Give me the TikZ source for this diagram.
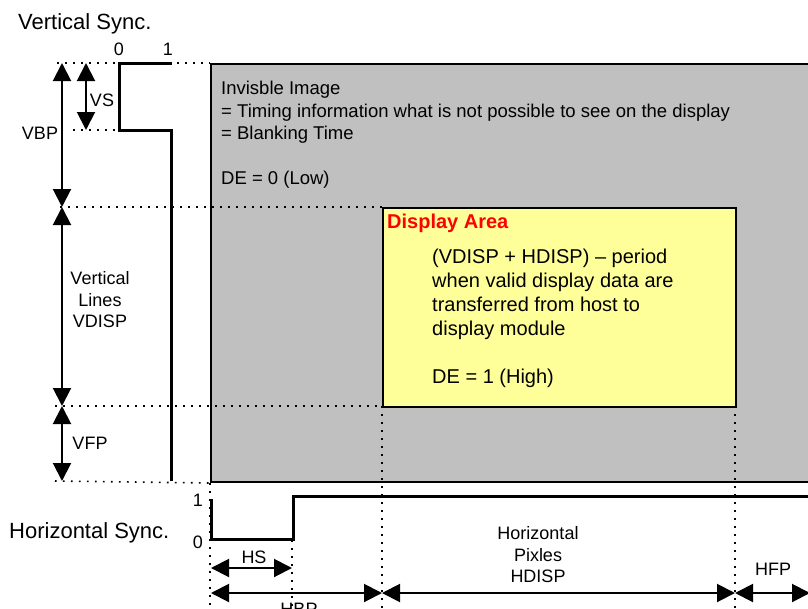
\documentclass[tikz,border=0pt]{standalone}
\usepackage{fontspec}
\setmainfont{Liberation Sans}
\usetikzlibrary{arrows.meta,positioning}
\definecolor{blankgray}{RGB}{192,192,192}
\definecolor{dispyellow}{RGB}{255,255,153}

\begin{document}
\begin{tikzpicture}[
  x=1pt, y=-1pt,
  sig/.style={line width=3pt, line join=miter},
  dim/.style={{Triangle[width=18pt,length=18pt]}-{Triangle[width=18pt,length=18pt]}, line width=2pt},
  guide/.style={line width=1.6pt, dash pattern=on 1.6pt off 6.4pt},
  area/.style={draw, line width=2pt, anchor=north west, inner sep=0pt},
  lbl/.style={font=\fontsize{18}{21.5}\selectfont, inner sep=0pt, align=center},
  title/.style={font=\fontsize{22}{26}\selectfont, inner sep=0pt, anchor=base west}
]
\useasboundingbox (0,0) rectangle (808,608);

% Blanking area and display area
\node[area, fill=blankgray, minimum width=630pt, minimum height=418pt] (blank) at (210,63) {};

% dotted guides
\draw[guide] (57,63) -- (blank.north west);
\draw[guide] (73,130) -- (119,130);
\draw[guide] (60,207) -- (382,207);
\draw[guide] (55,406) -- (382,406);
\draw[guide] (55,481) -- (blank.south west);
\draw[guide] (blank.south west) -- (210,608);
\draw[guide] (292,540) -- (292,608);
\draw[guide] (382,406) -- (382,608);
\draw[guide] (735,406) -- (735,608);

\node[area, fill=dispyellow, minimum width=353pt, minimum height=199pt] (disp) at (382,207) {};

% texts in the areas
\node[anchor=north west, align=left, inner sep=0pt, font=\fontsize{18.5}{22.5}\selectfont] (blanktxt) at (221,81)
  {Invisble Image\\= Timing information what is not possible to see on the display\\= Blanking Time\\[22.5pt]DE = 0 (Low)};
\node[anchor=west, inner sep=0pt, text=red, font=\bfseries\fontsize{20}{24}\selectfont] (dispname) at (387,223) {Display Area};
\node[anchor=north west, align=left, inner sep=0pt, font=\fontsize{20}{24}\selectfont] (disptxt) at (432,249)
  {(VDISP + HDISP) -- period\\when valid display data are\\transferred from host to\\display module\\[24pt]DE = 1 (High)};

% sync signals
\node[title] (vsync) at (18,29) {Vertical Sync.};
\node[title] (hsync) at (9,538) {Horizontal Sync.};
\draw[sig] (172,63) -- (119,63) -- (119,130) -- (171,130) -- (171,481);
\draw[sig] (211,499) -- (211,539) -- (293,539) -- (293,496) -- (840,496);
\node[lbl] (v0) at (119,49) {0};
\node[lbl] (v1) at (168,49) {1};
\node[lbl] (h1) at (198,500) {1};
\node[lbl] (h0) at (198,542) {0};

% vertical timing
\coordinate (vt) at (62,63);
\coordinate (vb) at (62,207);
\coordinate (vd) at (62,406);
\coordinate (ve) at (62,481);
\coordinate (st) at (86,63);
\coordinate (sb) at (86,130);
\draw[dim] (vt) -- (vb);
\draw[dim] (vb) -- (vd);
\draw[dim] (vd) -- (ve);
\draw[dim] (st) -- (sb);
\node[lbl] (lvs) at (102,100) {VS};
\node[lbl] (lvbp) at (40,133) {VBP};
\node[lbl] (lvdisp) at (100,300) {Vertical\\Lines\\VDISP};
\node[lbl] (lvfp) at (90,443) {VFP};

% horizontal timing
\coordinate (sa) at (211,568);
\coordinate (sc) at (292,568);
\coordinate (ha) at (211,593);
\coordinate (hb) at (382,593);
\coordinate (hc) at (735,593);
\coordinate (hd) at (810,593);
\draw[dim] (sa) -- (sc);
\draw[dim] (ha) -- (hb);
\draw[dim] (hb) -- (hc);
\draw[dim] (hc) -- (hd);
\node[lbl] (lhs) at (254,557) {HS};
\node[lbl] (lhbp) at (299,609) {HBP};
\node[lbl] (lhdisp) at (538,555) {Horizontal\\Pixles\\HDISP};
\node[lbl] (lhfp) at (773,569) {HFP};
\end{tikzpicture}
\end{document}
